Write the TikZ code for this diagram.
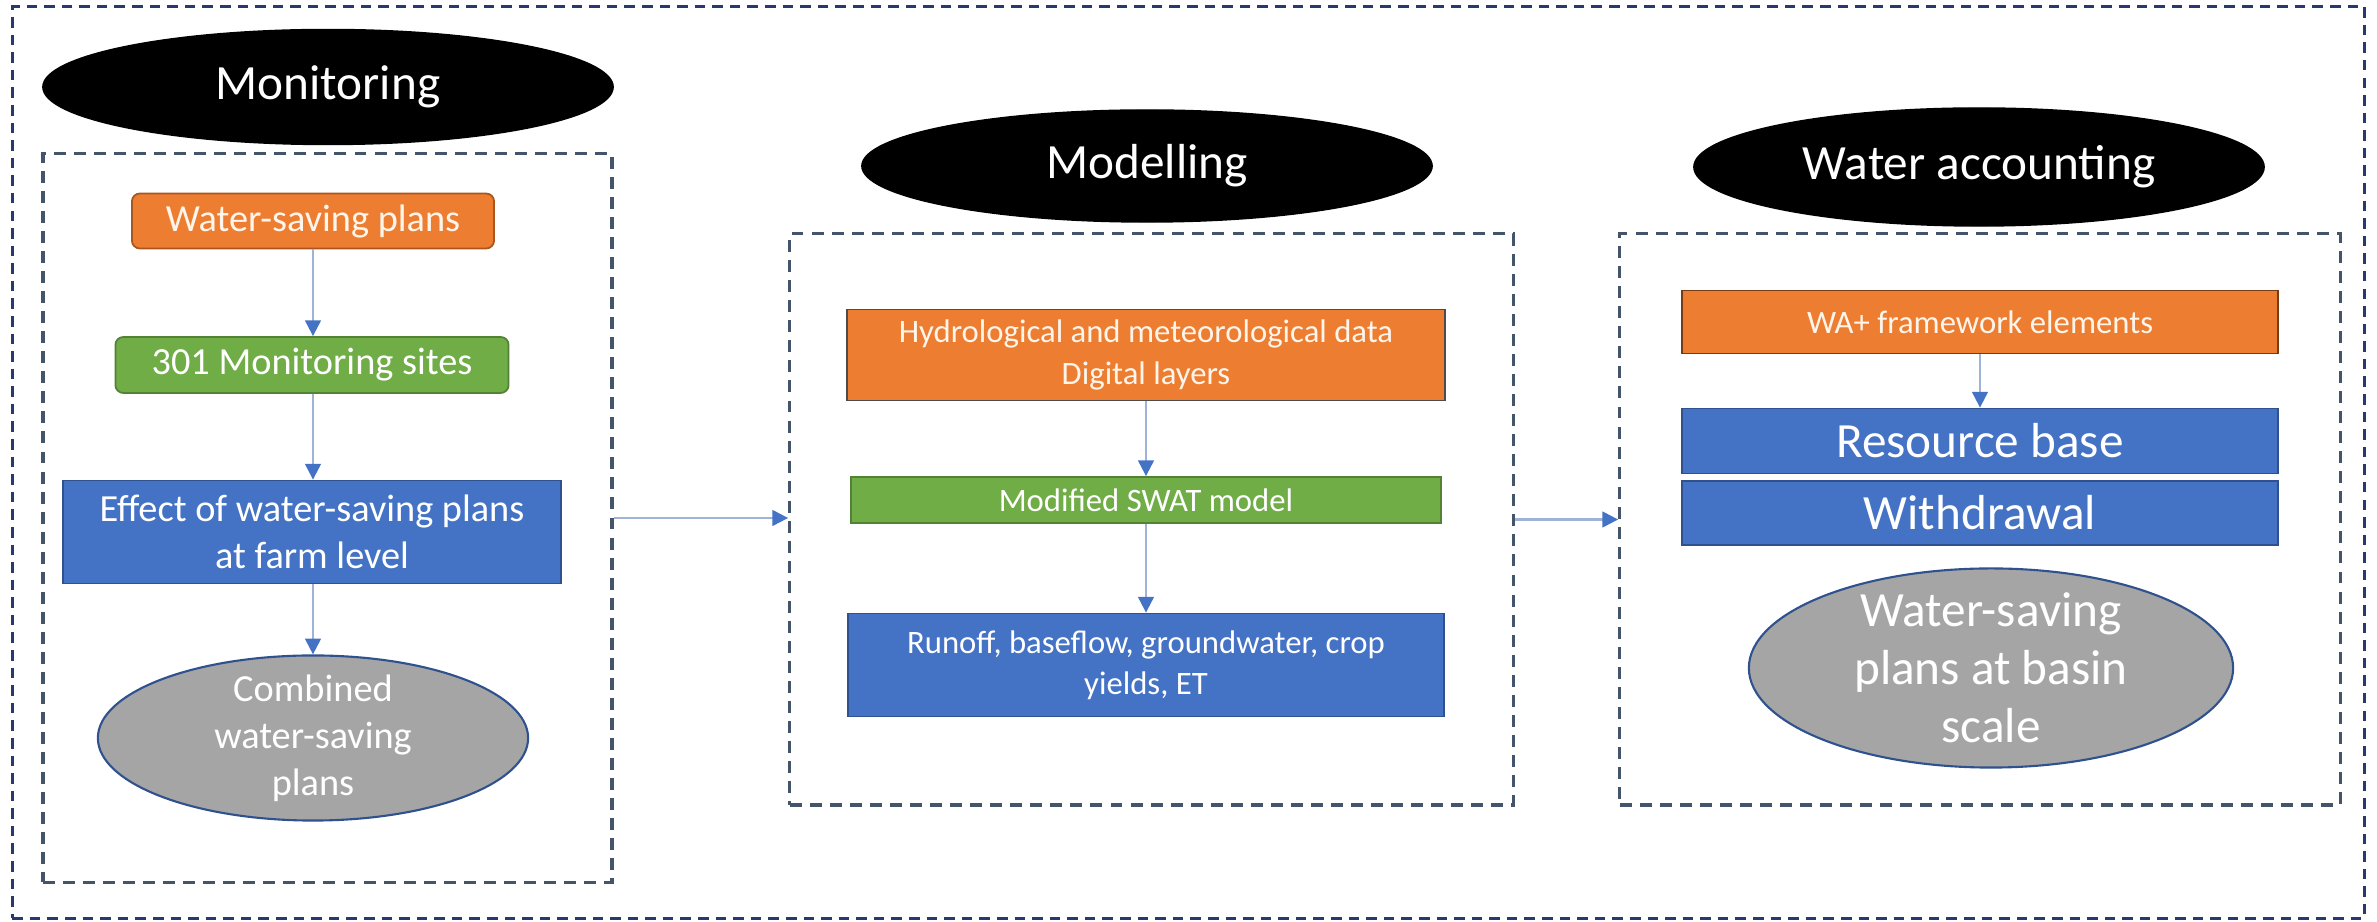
\documentclass[tikz,border=0pt]{standalone}
\usepackage{fontspec}
\setmainfont{Carlito}
\usepackage{xcolor}
\usetikzlibrary{shapes.geometric,arrows.meta}

\definecolor{msorange}{HTML}{ED7D31}
\definecolor{msorangeline}{HTML}{A9561E}
\definecolor{msgreen}{HTML}{70AD47}
\definecolor{msgreenline}{HTML}{548235}
\definecolor{msblue}{HTML}{4472C4}
\definecolor{msblueline}{HTML}{2F528F}
\definecolor{msgray}{HTML}{A5A5A5}
\definecolor{zoneline}{HTML}{44546A}
\definecolor{frameline}{HTML}{263A6E}
\definecolor{flowline}{HTML}{9FB3D9}

\newcommand\headsize{\fontsize{14}{16.5}\selectfont}
\newcommand\monsize{\fontsize{10.9}{13.4}\selectfont}
\newcommand\modsize{\fontsize{9.3}{11.7}\selectfont}

\tikzset{
  headoval/.style={ellipse, fill=black, draw=black, text=white, inner sep=0pt, minimum width=5.7cm, minimum height=1.15cm, font=\headsize},
  zone/.style={draw=zoneline, line width=0.95pt, dash pattern=on 3.4pt off 2.3pt, inner sep=0pt},
  frame/.style={draw=frameline, line width=0.85pt, dash pattern=on 3pt off 2pt, inner sep=0pt},
  box/.style={rectangle, inner sep=0pt, text=white, align=center, line width=0.5pt},
  orangebox/.style={box, fill=msorange, draw=msorangeline, text=orange!8},
  greenbox/.style={box, fill=msgreen, draw=msgreenline},
  bluebox/.style={box, fill=msblue, draw=msblueline},
  grayoval/.style={ellipse, fill=msgray, draw=msblueline, line width=0.6pt, inner sep=0pt},
  flow/.style={draw=flowline, line width=0.6pt, -{Triangle[length=4.5pt, width=4.5pt, color=msblue]}}
}

\begin{document}
\begin{tikzpicture}[x=0.01cm, y=-0.01cm]
	\useasboundingbox (0,0) rectangle (2377,922);
	\node[frame, minimum width=23.51cm, minimum height=9.11cm] (frame) at (1188.5,462.5) {};

	% Monitoring
	\node[headoval] (monhead) at (328,87) {Monitoring};
	\node[zone, minimum width=5.69cm, minimum height=7.28cm] (monzone) at (327.5,518) {};
	\node[orangebox, rounded corners=0.08cm, minimum width=3.62cm, minimum height=0.55cm, font=\monsize] (wsp) at (313,221) {Water-saving plans};
	\node[greenbox, rounded corners=0.08cm, minimum width=3.93cm, minimum height=0.56cm, font=\monsize] (sites) at (312,365) {301 Monitoring sites};
	\node[bluebox, minimum width=4.97cm, minimum height=1.03cm, font=\monsize] (farm) at (312,532) {Effect of water-saving plans\\at farm level};
	\node[grayoval, minimum width=4.30cm, minimum height=1.65cm,
		label={[align=center, text=white, font=\monsize]center:{Combined\\water-saving\\plans}}] (combined) at (313,738) {};
	\draw[flow] (wsp.south) -- (wsp.south |- sites.north);
	\draw[flow] (wsp.south |- sites.south) -- (wsp.south |- farm.north);
	\draw[flow] (wsp.south |- farm.south) -- (wsp.south |- combined.north);

	% Modelling
	\node[headoval, minimum height=1.12cm] (modhead) at (1147,166) {Modelling};
	\node[zone, minimum width=7.23cm, minimum height=5.71cm] (modzone) at (1151.5,519.5) {};
	\node[orangebox, draw=black!70, minimum width=5.97cm, minimum height=0.91cm, font=\modsize] (data) at (1146,355) {Hydrological and meteorological data\\Digital layers};
	\node[greenbox, minimum width=5.90cm, minimum height=0.46cm, font=\modsize] (swat) at (1146,500) {Modified SWAT model};
	\node[bluebox, minimum width=5.96cm, minimum height=1.03cm, font=\modsize] (outputs) at (1146,665) {Runoff, baseflow, groundwater, crop\\yields, ET};
	\draw[flow] (data) -- (swat);
	\draw[flow] (swat) -- (outputs);

	% Water accounting
	\node[headoval, minimum height=1.18cm] (wahead) at (1979,167) {Water accounting};
	\node[zone, minimum width=7.20cm, minimum height=5.71cm] (wazone) at (1980,519.5) {};
	\node[orangebox, draw=msorangeline!70!black, minimum width=5.96cm, minimum height=0.63cm, font=\modsize] (waplus) at (1980,322) {WA+ framework elements};
	\node[bluebox, minimum width=5.96cm, minimum height=0.65cm, font=\headsize] (resource) at (1980,441) {Resource base};
	\node[bluebox, minimum width=5.96cm, minimum height=0.64cm, font=\headsize] (withdrawal) at (1980,513) {Withdrawal};
	\node[grayoval, minimum width=4.84cm, minimum height=1.99cm,
		label={[align=center, text=white, font=\headsize]center:{Water-saving\\plans at basin\\scale}}] (basin) at (1991,668) {};
	\draw[flow] (waplus) -- (resource);

	% links between stages
	\draw[flow] (monzone.east) -- (monzone.east -| modzone.west);
	\draw[flow] (modzone.east) -- (wazone.west);
\end{tikzpicture}
\end{document}
